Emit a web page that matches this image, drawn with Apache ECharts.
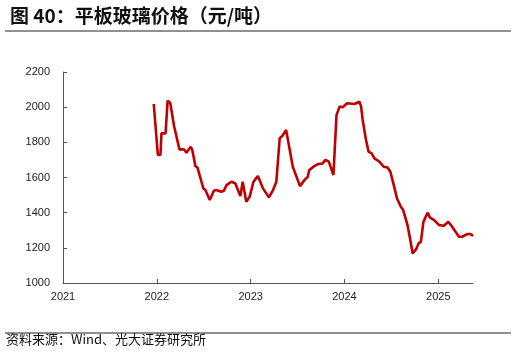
<!DOCTYPE html>
<html>
<head>
<meta charset="utf-8">
<script src="https://cdn.jsdelivr.net/npm/echarts@6/dist/echarts.min.js"></script>
<style>
html,body{margin:0;padding:0;background:#fff;}
#c{width:516px;height:353px;}
</style>
</head>
<body>
<div id="c"></div>
<script>
// Data
var dates = [
 '2021-12-20','2022-01-05','2022-01-15','2022-01-19','2022-02-04','2022-02-12','2022-02-22','2022-03-09','2022-03-16','2022-03-30',
 '2022-04-17','2022-04-26','2022-05-13','2022-05-19','2022-05-31','2022-06-08','2022-06-19','2022-07-01','2022-07-09','2022-07-26',
 '2022-08-11','2022-08-20','2022-09-09','2022-09-19','2022-09-29','2022-10-18','2022-11-02','2022-11-22','2022-12-01','2022-12-15',
 '2022-12-28','2023-01-12','2023-01-29','2023-02-05','2023-02-18','2023-03-13','2023-03-28','2023-04-11','2023-04-24','2023-05-04',
 '2023-05-19','2023-06-14','2023-06-20','2023-07-12','2023-07-29','2023-08-11','2023-08-17','2023-08-24','2023-09-06','2023-09-19',
 '2023-10-08','2023-10-19','2023-11-01','2023-11-19','2023-11-26','2023-12-01','2023-12-06','2023-12-13','2023-12-25','2024-01-11',
 '2024-02-09','2024-02-28','2024-03-06','2024-03-12','2024-03-25','2024-04-04','2024-04-16','2024-04-27','2024-05-16','2024-06-02',
 '2024-06-17','2024-06-28','2024-07-13','2024-07-24','2024-08-08','2024-08-17','2024-09-03','2024-09-12','2024-09-23','2024-10-06',
 '2024-10-16','2024-10-25','2024-11-04','2024-11-20','2024-11-29','2024-12-16','2025-01-04','2025-01-23','2025-02-09','2025-02-24',
 '2025-03-09','2025-03-22','2025-04-04','2025-04-23','2025-05-07','2025-05-16'
];
var prices = [
 2018,1728,1728,1851,1851,2037,2025,1893,1885,1760,
 1760,1741,1775,1756,1665,1657,1600,1538,1529,1472,
 1525,1529,1519,1525,1557,1576,1567,1494,1576,1462,
 1490,1576,1608,1585,1538,1487,1525,1576,1823,1836,
 1870,1661,1652,1551,1585,1604,1642,1633,1665,1676,
 1680,1700,1690,1614,1610,1955,1965,2003,1999,2022,
 2018,2031,2003,1927,1813,1747,1737,1709,1690,1661,
 1657,1633,1547,1481,1434,1415,1329,1259,1168,1191,
 1225,1234,1348,1400,1373,1358,1329,1326,1348,1320,
 1292,1263,1263,1278,1278,1267
];
var xStart = '2021-01-01';
var xEnd = '2025-05-16';
var yTicks = [1000, 1200, 1400, 1600, 1800, 2000, 2200];
var titleText = '图 40：平板玻璃价格（元/吨）';
var sourceText = '资料来源：Wind、光大证券研究所';

function toYear(s) {
  var p = s.split('-').map(Number);
  var y = p[0];
  var start = Date.UTC(y, 0, 1), end = Date.UTC(y + 1, 0, 1);
  return y + (Date.UTC(y, p[1] - 1, p[2]) - start) / (end - start);
}
var seriesData = dates.map(function (d, i) { return [toYear(d), prices[i]]; });

var chart = echarts.init(document.getElementById('c'), null, {renderer: 'canvas'});
var font = '"Liberation Sans", Arial, sans-serif';
var cjk = '"Noto Sans CJK SC", sans-serif';
chart.setOption({
  animation: false,
  backgroundColor: '#fff',
  title: {
    text: titleText,
    left: 5, top: 1,
    textStyle: {fontFamily: cjk, fontSize: 19, fontWeight: 'bold', color: '#111'}
  },
  graphic: [
    {type: 'line', shape: {x1: 5, y1: 31, x2: 511, y2: 31}, style: {stroke: '#6b6b6b', lineWidth: 1.5}},
    {type: 'line', shape: {x1: 5, y1: 333, x2: 511, y2: 333}, style: {stroke: '#6b6b6b', lineWidth: 1.5}},
    {type: 'text', left: 6, top: 333, style: {text: sourceText, font: '13px ' + cjk, fill: '#111'}}
  ],
  grid: {left: 63, right: 43, top: 72, bottom: 70, containLabel: false},
  xAxis: {
    type: 'value',
    min: toYear(xStart), max: toYear(xEnd), interval: 1,
    axisLine: {lineStyle: {color: '#555', width: 1}},
    axisTick: {inside: true, length: 4, lineStyle: {color: '#555'}},
    splitLine: {show: false},
    axisLabel: {
      margin: 8, color: '#222', fontSize: 11, fontFamily: font,
      showMaxLabel: false,
      formatter: function (v) { return Math.round(v) === v ? String(v) : ''; }
    }
  },
  yAxis: {
    type: 'value',
    min: yTicks[0], max: yTicks[yTicks.length - 1], interval: 200,
    axisLine: {show: true, lineStyle: {color: '#555', width: 1}},
    axisTick: {show: true, inside: true, length: 4, lineStyle: {color: '#555'}},
    splitLine: {show: false},
    axisLabel: {margin: 13, color: '#222', fontSize: 11, fontFamily: font,
      formatter: function (v) { return String(v); }}
  },
  series: [{
    type: 'line',
    data: seriesData,
    showSymbol: false,
    symbol: 'none',
    lineStyle: {color: '#C00000', width: 2.6},
    z: 3
  }]
});
</script>
</body>
</html>
